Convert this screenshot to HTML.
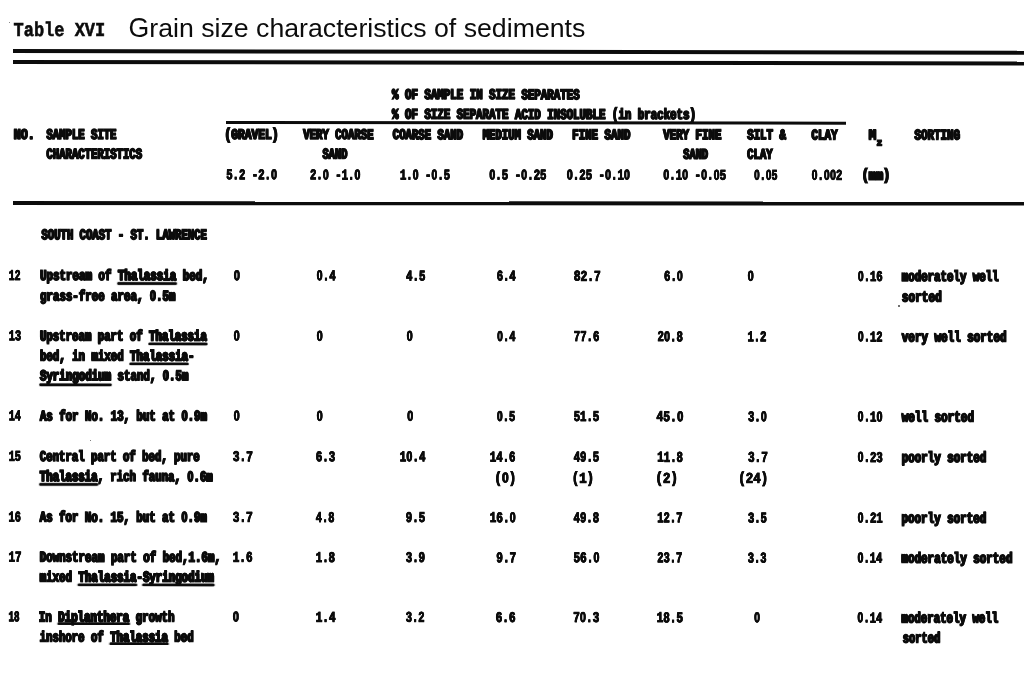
<!DOCTYPE html>
<html lang="en"><head><meta charset="utf-8"><title>Table XVI Grain size characteristics of sediments</title>
<style>
html,body{margin:0;padding:0;background:#fff;}
body{width:1024px;height:674px;position:relative;overflow:hidden;font-family:"Liberation Sans",sans-serif;color:#0c0c0c;}
.x{position:absolute;left:0;top:0;white-space:pre;transform-origin:0 0;line-height:normal;}
.b{font:bold 13.0px "Liberation Mono",monospace;-webkit-text-stroke:1.4px #0c0c0c;text-shadow:0.8px 0 0 #0c0c0c,-0.8px 0 0 #0c0c0c;}
.p{display:inline-block;font-weight:inherit;transform:scaleY(1.04);transform-origin:50% 93%;}
.g{display:inline-block;font-weight:inherit;transform:scaleY(1.05);transform-origin:50% 80%;}
.n{-webkit-text-stroke-width:0.75px;text-shadow:0.35px 0 0 #0c0c0c,-0.35px 0 0 #0c0c0c;}
.t{font:normal 26px "Liberation Sans",sans-serif;color:#0c0c0c;filter:grayscale(1);}
.m{font:bold 16.5px "Liberation Mono",monospace;-webkit-text-stroke:0.5px #0c0c0c;}
.s{position:absolute;border-radius:50%;}
.r{position:absolute;background:#0c0c0c;transform-origin:0 50%;}
.z{display:inline-block;width:0.6em;text-align:center;font-family:"Liberation Sans",sans-serif;font-size:96%;}
u{text-decoration:underline;text-decoration-thickness:2.3px;text-decoration-skip-ink:none;}
#pg{position:absolute;left:0;top:0;width:1024px;height:674px;filter:blur(0.4px);}
#rot{position:absolute;left:0;top:0;width:100%;height:100%;transform:rotate(0.069deg);transform-origin:100px 337px;}
</style></head>
<body>
<div id="pg">
<div class="r" style="left:12.5px;top:48.95px;width:1013.5px;height:3.80px;transform:rotate(0.0933deg)"></div>
<div class="r" style="left:12.5px;top:60.20px;width:1013.5px;height:3.80px;transform:rotate(0.0791deg)"></div>
<div class="r" style="left:225.5px;top:120.55px;width:619.5px;height:3.10px;transform:rotate(0.0647deg)"></div>
<div class="r" style="left:12.5px;top:200.90px;width:1013.5px;height:3.60px;transform:rotate(0.0339deg)"></div>
<div class="s" style="left:9.2px;top:21.9px;width:1.3px;height:1.3px;background:#666"></div>
<div class="s" style="left:90.0px;top:439.5px;width:1.4px;height:1.4px;background:#555"></div>
<div class="s" style="left:898.3px;top:305.3px;width:1.4px;height:1.4px;background:#555"></div>
<div id="rot">
<div class="x m" style="transform:translate(13.20px,19.20px) scale(1.0282,1.2000);">Table XVI</div>
<div class="x b" style="transform:translate(391.80px,86.08px) scale(0.8289,1.1400);">% OF SAMPLE IN SIZE SEPARATES</div>
<div class="x b" style="transform:translate(391.80px,105.84px) scale(0.8288,1.1400);">% OF SIZE SEPARATE ACID INSOLUBLE <b class="p">(</b>in brackets<b class="p">)</b></div>
<div class="x b" style="transform:translate(13.60px,126.46px) scale(0.8931,1.1400);">NO.</div>
<div class="x b" style="transform:translate(46.20px,126.42px) scale(0.8162,1.1400);">SAMPLE SITE</div>
<div class="x b" style="transform:translate(46.20px,145.91px) scale(0.8173,1.1400);">CHARACTERISTICS</div>
<div class="x b" style="transform:translate(224.27px,126.32px) scale(0.8668,1.1400);"><b class="p">(</b>GRAVEL<b class="p">)</b></div>
<div class="x b" style="transform:translate(303.00px,126.27px) scale(0.8196,1.1400);">VERY COARSE</div>
<div class="x b" style="transform:translate(322.30px,145.77px) scale(0.7961,1.1400);">SAND</div>
<div class="x b" style="transform:translate(392.50px,126.21px) scale(0.8196,1.1400);">COARSE SAND</div>
<div class="x b" style="transform:translate(482.50px,126.16px) scale(0.8173,1.1400);">MEDIUM SAND</div>
<div class="x b" style="transform:translate(571.97px,126.11px) scale(0.8284,1.1400);">FINE SAND</div>
<div class="x b" style="transform:translate(663.00px,126.05px) scale(0.8280,1.1400);">VERY FINE</div>
<div class="x b" style="transform:translate(683.00px,145.55px) scale(0.7961,1.1400);">SAND</div>
<div class="x b" style="transform:translate(747.00px,126.01px) scale(0.8254,1.1400);">SILT &amp;</div>
<div class="x b" style="transform:translate(747.00px,145.51px) scale(0.8120,1.1400);">CLAY</div>
<div class="x b" style="transform:translate(811.30px,125.98px) scale(0.8343,1.1400);">CLAY</div>
<div class="x b" style="transform:translate(868.60px,125.95px) scale(0.9500,1.1400);">M</div>
<div class="x b" style="transform:translate(876.60px,136.50px) scale(1.0400,1.1400);font-size:8.5px;">z</div>
<div class="x b" style="transform:translate(914.30px,125.91px) scale(0.8338,1.1400);">SORTING</div>
<div class="x b n" style="transform:translate(226.00px,166.62px) scale(0.8194,1.1400);">5.2 -2.<b class="z">0</b></div>
<div class="x b n" style="transform:translate(309.80px,166.57px) scale(0.8178,1.1400);">2.<b class="z">0</b> -1.<b class="z">0</b></div>
<div class="x b n" style="transform:translate(399.80px,166.51px) scale(0.8098,1.1400);">1.<b class="z">0</b> -<b class="z">0</b>.5</div>
<div class="x b n" style="transform:translate(489.00px,166.46px) scale(0.8237,1.1400);"><b class="z">0</b>.5 -<b class="z">0</b>.25</div>
<div class="x b n" style="transform:translate(566.50px,166.41px) scale(0.8221,1.1400);"><b class="z">0</b>.25 -<b class="z">0</b>.1<b class="z">0</b></div>
<div class="x b n" style="transform:translate(663.00px,166.35px) scale(0.8183,1.1400);"><b class="z">0</b>.1<b class="z">0</b> -<b class="z">0</b>.<b class="z">0</b>5</div>
<div class="x b n" style="transform:translate(753.80px,166.31px) scale(0.7706,1.1400);"><b class="z">0</b>.<b class="z">0</b>5</div>
<div class="x b n" style="transform:translate(811.30px,166.27px) scale(0.8086,1.1400);"><b class="z">0</b>.<b class="z">0</b><b class="z">0</b>2</div>
<div class="x b" style="transform:translate(861.48px,166.24px) scale(0.9123,1.1400);"><b class="p">(</b>mm<b class="p">)</b></div>
<div class="x b" style="transform:translate(41.30px,226.71px) scale(0.8161,1.1400);">SOUTH COAST - ST. LAWRENCE</div>
<div class="x b n" style="transform:translate(8.80px,267.51px) scale(0.7404,1.1400);">12</div>
<div class="x b" style="transform:translate(40.00px,267.51px) scale(0.8314,1.1400);">Upstream of <u style="text-underline-offset:2.0px">Thalassia</u> bed,</div>
<div class="x b" style="transform:translate(40.00px,287.91px) scale(0.8279,1.1400);">grass-free area, <b class="z">0</b>.5m</div>
<div class="x b n" style="transform:translate(8.80px,327.91px) scale(0.7847,1.1400);">13</div>
<div class="x b" style="transform:translate(40.00px,327.91px) scale(0.8225,1.1400);">Upstream part of <u style="text-underline-offset:2.2px">Thalassia</u></div>
<div class="x b" style="transform:translate(40.00px,347.91px) scale(0.8251,1.1400);">bed, in mixed <u style="text-underline-offset:2.2px">Thalassia</u>-</div>
<div class="x b" style="transform:translate(40.00px,367.71px) scale(0.8284,1.1400);"><u style="text-underline-offset:2.7px">Syringodium</u> stand, <b class="z">0</b>.5m</div>
<div class="x b n" style="transform:translate(8.80px,407.91px) scale(0.7847,1.1400);">14</div>
<div class="x b" style="transform:translate(40.00px,407.91px) scale(0.8250,1.1400);">As for No. 13, but at <b class="z">0</b>.9m</div>
<div class="x b n" style="transform:translate(8.80px,448.41px) scale(0.7847,1.1400);">15</div>
<div class="x b" style="transform:translate(40.00px,448.41px) scale(0.8195,1.1400);">Central part of bed, pure</div>
<div class="x b" style="transform:translate(40.00px,468.51px) scale(0.8220,1.1400);"><u style="text-underline-offset:1.6px">Thalassia</u>, rich fauna, <b class="z">0</b>.6m</div>
<div class="x b n" style="transform:translate(8.80px,509.11px) scale(0.7847,1.1400);">16</div>
<div class="x b" style="transform:translate(40.00px,509.11px) scale(0.8250,1.1400);">As for No. 15, but at <b class="z">0</b>.9m</div>
<div class="x b n" style="transform:translate(8.80px,549.11px) scale(0.8378,1.1400);">17</div>
<div class="x b" style="transform:translate(40.00px,549.11px) scale(0.8292,1.1400);">Downstream part of bed,1.6m,</div>
<div class="x b" style="transform:translate(40.00px,568.91px) scale(0.8267,1.1400);">mixed <u style="text-underline-offset:2.4px">Thalassia</u>-<u style="text-underline-offset:2.4px">Syringodium</u></div>
<div class="x b n" style="transform:translate(8.80px,608.91px) scale(0.7088,1.1400);">18</div>
<div class="x b" style="transform:translate(39.17px,608.91px) scale(0.8281,1.1400);">In <u style="text-underline-offset:0.5px">Diplanthera</u> growth</div>
<div class="x b" style="transform:translate(40.00px,628.91px) scale(0.8223,1.1400);">inshore of <u style="text-underline-offset:0.9px">Thalassia</u> bed</div>
<div class="x b n" style="transform:translate(233.60px,267.51px) scale(0.8500,1.1400);"><b class="z">0</b></div>
<div class="x b n" style="transform:translate(316.50px,267.51px) scale(0.8262,1.1400);"><b class="z">0</b>.4</div>
<div class="x b n" style="transform:translate(406.00px,267.51px) scale(0.8262,1.1400);">4.5</div>
<div class="x b n" style="transform:translate(496.60px,267.51px) scale(0.8135,1.1400);">6.4</div>
<div class="x b n" style="transform:translate(573.80px,267.51px) scale(0.8617,1.1400);">82.7</div>
<div class="x b n" style="transform:translate(664.00px,267.51px) scale(0.8177,1.1400);">6.<b class="z">0</b></div>
<div class="x b n" style="transform:translate(747.50px,267.51px) scale(0.8500,1.1400);"><b class="z">0</b></div>
<div class="x b n" style="transform:translate(857.70px,267.51px) scale(0.8056,1.1400);"><b class="z">0</b>.16</div>
<div class="x b" style="transform:translate(901.80px,267.51px) scale(0.8267,1.1400);">moderately well</div>
<div class="x b" style="transform:translate(901.80px,287.91px) scale(0.8521,1.1400);">sorted</div>
<div class="x b n" style="transform:translate(233.60px,327.91px) scale(0.8500,1.1400);"><b class="z">0</b></div>
<div class="x b n" style="transform:translate(316.60px,327.91px) scale(0.8500,1.1400);"><b class="z">0</b></div>
<div class="x b n" style="transform:translate(406.60px,327.91px) scale(0.8500,1.1400);"><b class="z">0</b></div>
<div class="x b n" style="transform:translate(497.00px,327.91px) scale(0.7965,1.1400);"><b class="z">0</b>.4</div>
<div class="x b n" style="transform:translate(573.80px,327.91px) scale(0.8184,1.1400);">77.6</div>
<div class="x b n" style="transform:translate(657.50px,327.91px) scale(0.8216,1.1400);">2<b class="z">0</b>.8</div>
<div class="x b n" style="transform:translate(747.50px,327.91px) scale(0.8092,1.1400);">1.2</div>
<div class="x b n" style="transform:translate(857.70px,327.91px) scale(0.8056,1.1400);"><b class="z">0</b>.12</div>
<div class="x b" style="transform:translate(901.80px,327.91px) scale(0.8386,1.1400);">very well sorted</div>
<div class="x b n" style="transform:translate(233.60px,407.91px) scale(0.8500,1.1400);"><b class="z">0</b></div>
<div class="x b n" style="transform:translate(316.60px,407.91px) scale(0.8500,1.1400);"><b class="z">0</b></div>
<div class="x b n" style="transform:translate(407.20px,407.91px) scale(0.8500,1.1400);"><b class="z">0</b></div>
<div class="x b n" style="transform:translate(497.00px,407.91px) scale(0.7965,1.1400);"><b class="z">0</b>.5</div>
<div class="x b n" style="transform:translate(573.80px,407.91px) scale(0.8184,1.1400);">51.5</div>
<div class="x b n" style="transform:translate(656.50px,407.91px) scale(0.8757,1.1400);">45.<b class="z">0</b></div>
<div class="x b n" style="transform:translate(748.10px,407.91px) scale(0.8135,1.1400);">3.<b class="z">0</b></div>
<div class="x b n" style="transform:translate(857.70px,407.91px) scale(0.8152,1.1400);"><b class="z">0</b>.1<b class="z">0</b></div>
<div class="x b" style="transform:translate(901.80px,407.91px) scale(0.8422,1.1400);">well sorted</div>
<div class="x b n" style="transform:translate(233.00px,448.41px) scale(0.8539,1.1400);">3.7</div>
<div class="x b n" style="transform:translate(316.00px,448.41px) scale(0.8262,1.1400);">6.3</div>
<div class="x b n" style="transform:translate(399.80px,448.41px) scale(0.8343,1.1400);">1<b class="z">0</b>.4</div>
<div class="x b n" style="transform:translate(490.00px,448.41px) scale(0.8216,1.1400);">14.6</div>
<div class="x b n" style="transform:translate(573.80px,448.41px) scale(0.8184,1.1400);">49.5</div>
<div class="x b n" style="transform:translate(657.50px,448.41px) scale(0.8216,1.1400);">11.8</div>
<div class="x b n" style="transform:translate(748.10px,448.41px) scale(0.8495,1.1400);">3.7</div>
<div class="x b n" style="transform:translate(857.70px,448.41px) scale(0.8152,1.1400);"><b class="z">0</b>.23</div>
<div class="x b" style="transform:translate(901.80px,448.41px) scale(0.8349,1.1400);">poorly sorted</div>
<div class="x b n" style="transform:translate(494.61px,469.51px) scale(0.9438,1.1400);"><b class="p">(</b><b class="z">0</b><b class="p">)</b></div>
<div class="x b n" style="transform:translate(571.89px,469.51px) scale(0.9540,1.1400);"><b class="p">(</b>1<b class="p">)</b></div>
<div class="x b n" style="transform:translate(655.58px,469.51px) scale(0.9591,1.1400);"><b class="p">(</b>2<b class="p">)</b></div>
<div class="x b n" style="transform:translate(738.49px,469.51px) scale(0.9561,1.1400);"><b class="p">(</b>24<b class="p">)</b></div>
<div class="x b n" style="transform:translate(233.00px,509.11px) scale(0.8539,1.1400);">3.7</div>
<div class="x b n" style="transform:translate(316.00px,509.11px) scale(0.7965,1.1400);">4.8</div>
<div class="x b n" style="transform:translate(406.00px,509.11px) scale(0.8262,1.1400);">9.5</div>
<div class="x b n" style="transform:translate(490.00px,509.11px) scale(0.8438,1.1400);">16.<b class="z">0</b></div>
<div class="x b n" style="transform:translate(573.80px,509.11px) scale(0.8184,1.1400);">49.8</div>
<div class="x b n" style="transform:translate(657.50px,509.11px) scale(0.8058,1.1400);">12.7</div>
<div class="x b n" style="transform:translate(748.10px,509.11px) scale(0.8135,1.1400);">3.5</div>
<div class="x b n" style="transform:translate(857.70px,509.11px) scale(0.8152,1.1400);"><b class="z">0</b>.21</div>
<div class="x b" style="transform:translate(901.80px,509.11px) scale(0.8349,1.1400);">poorly sorted</div>
<div class="x b n" style="transform:translate(233.00px,549.11px) scale(0.8474,1.1400);">1.6</div>
<div class="x b n" style="transform:translate(316.00px,549.11px) scale(0.8262,1.1400);">1.8</div>
<div class="x b n" style="transform:translate(406.00px,549.11px) scale(0.8262,1.1400);">3.9</div>
<div class="x b n" style="transform:translate(496.50px,549.11px) scale(0.8539,1.1400);">9.7</div>
<div class="x b n" style="transform:translate(573.80px,549.11px) scale(0.8438,1.1400);">56.<b class="z">0</b></div>
<div class="x b n" style="transform:translate(657.50px,549.11px) scale(0.8058,1.1400);">23.7</div>
<div class="x b n" style="transform:translate(748.10px,549.11px) scale(0.8008,1.1400);">3.3</div>
<div class="x b n" style="transform:translate(857.70px,549.11px) scale(0.8056,1.1400);"><b class="z">0</b>.14</div>
<div class="x b" style="transform:translate(901.80px,549.11px) scale(0.8360,1.1400);">moderately sorted</div>
<div class="x b n" style="transform:translate(233.00px,608.91px) scale(0.8500,1.1400);"><b class="z">0</b></div>
<div class="x b n" style="transform:translate(316.00px,608.91px) scale(0.8474,1.1400);">1.4</div>
<div class="x b n" style="transform:translate(406.00px,608.91px) scale(0.8050,1.1400);">3.2</div>
<div class="x b n" style="transform:translate(496.00px,608.91px) scale(0.8474,1.1400);">6.6</div>
<div class="x b n" style="transform:translate(573.50px,608.91px) scale(0.8438,1.1400);">7<b class="z">0</b>.3</div>
<div class="x b n" style="transform:translate(657.00px,608.91px) scale(0.8438,1.1400);">18.5</div>
<div class="x b n" style="transform:translate(754.30px,608.91px) scale(0.8125,1.1400);"><b class="z">0</b></div>
<div class="x b n" style="transform:translate(857.70px,608.91px) scale(0.8056,1.1400);"><b class="z">0</b>.14</div>
<div class="x b" style="transform:translate(901.80px,608.91px) scale(0.8267,1.1400);">moderately well</div>
<div class="x b" style="transform:translate(903.00px,628.91px) scale(0.8042,1.1400);">sorted</div>
</div>
</div>
<div class="x t" style="transform:translate(128.47px,12.90px) scale(1.0265,1.0000);"><b class="g">G</b>rain size characteristics of sediments</div>
</body></html>
